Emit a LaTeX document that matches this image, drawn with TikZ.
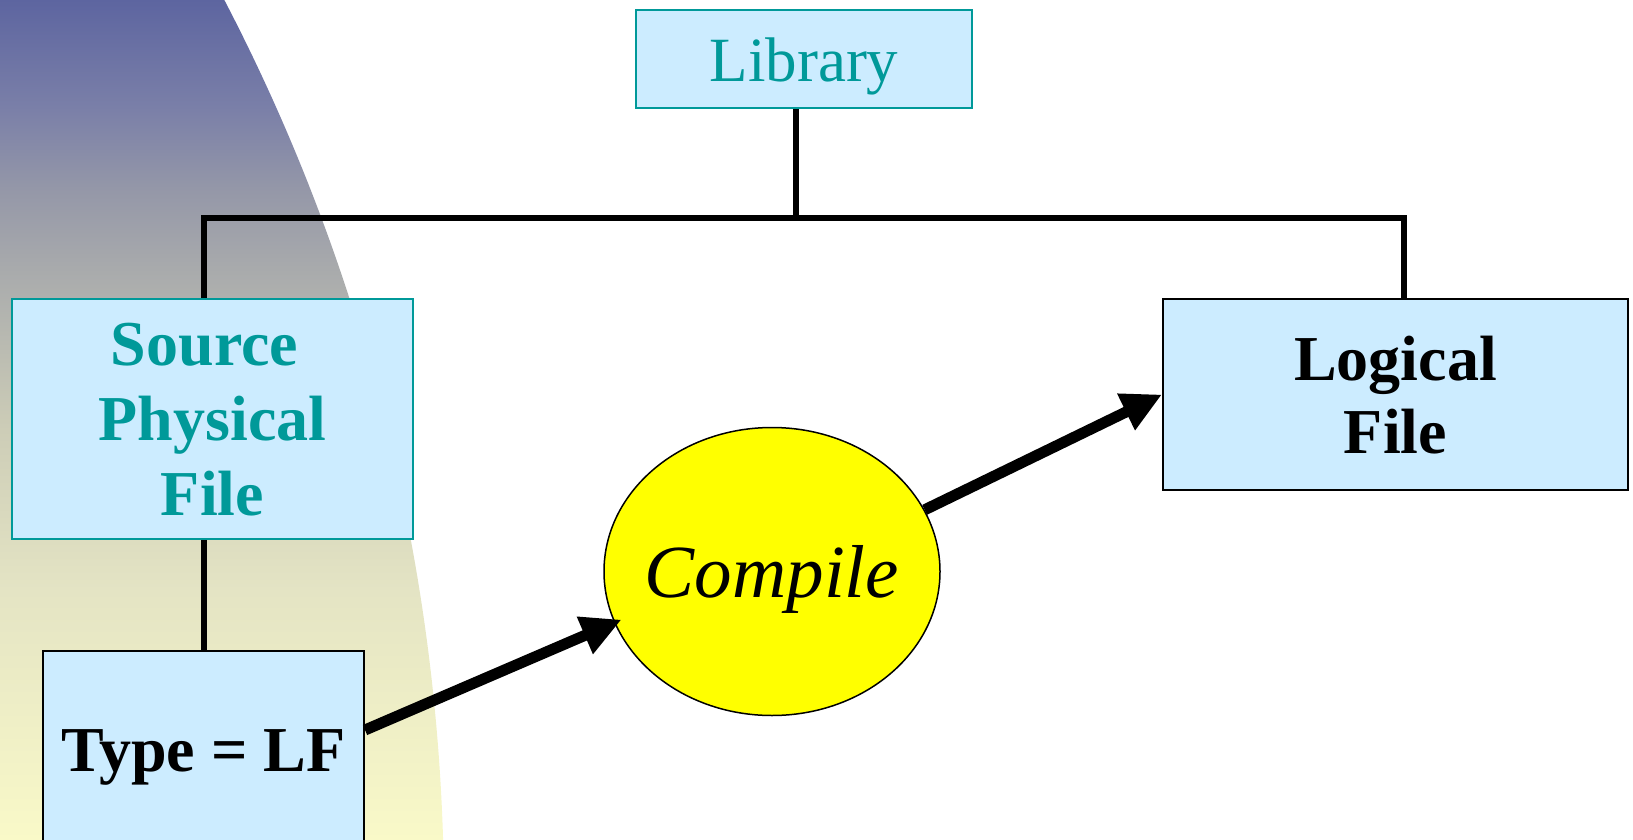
\documentclass[tikz,border=0pt]{standalone}
\usepackage{fontspec}
\setmainfont{Liberation Serif}
\usetikzlibrary{arrows.meta,shapes.geometric,calc}

\definecolor{boxblue}{RGB}{204,236,255}
\definecolor{boxteal}{RGB}{0,153,153}
\definecolor{compileyellow}{RGB}{255,255,0}
\definecolor{fadeA}{RGB}{93,101,160}
\definecolor{fadeB}{RGB}{122,127,168}
\definecolor{fadeC}{RGB}{148,151,168}
\definecolor{fadeD}{RGB}{168,170,172}
\definecolor{fadeE}{RGB}{205,205,183}
\definecolor{fadeF}{RGB}{228,228,196}
\definecolor{fadeG}{RGB}{249,249,200}

% blue-to-cream backdrop, bottom (0bp) to top (100bp)
\pgfdeclareverticalshading{sidefade}{100bp}{%
  color(0bp)=(fadeG); color(25bp)=(fadeG); color(39.88bp)=(fadeF);
  color(49.4bp)=(fadeE); color(59.05bp)=(fadeD); color(63.81bp)=(fadeC);
  color(68.63bp)=(fadeB); color(75bp)=(fadeA); color(100bp)=(fadeA)}

\tikzset{
  boxbase/.style={rectangle, fill=boxblue, inner sep=0pt, text depth=0pt, align=center},
  tealbox/.style={boxbase, draw=boxteal, line width=1pt, text=boxteal},
  darkbox/.style={boxbase, draw=black, line width=1pt},
  conn/.style={line width=3pt, line join=miter},
  flow/.style={line width=5.5pt, -{Triangle[length=20pt,width=19pt]}},
  boldtext/.style={font=\fontsize{32}{37.5}\selectfont\bfseries},
}

\begin{document}
\begin{tikzpicture}[x=0.5pt, y=0.5pt]
\useasboundingbox (0,0) rectangle (1633,-840);
\clip (0,0) rectangle (1633,-840);

% curved backdrop on the left
\begin{scope}
  \clip (-1506,-900) circle (975pt);
  \shade[shading=sidefade] (0,0) rectangle (470,-840);
\end{scope}

% boxes
\node[tealbox, minimum width=168pt, minimum height=49pt,
      font=\fontsize{31.5}{36}\selectfont] (library) at (804,-59.5) {Library};
\node[tealbox, boldtext, minimum width=200.5pt, minimum height=120pt]
      (source) at (212.5,-419) {Source\hbox to 8pt{}\\Physical\\File};
\node[darkbox, minimum width=232.5pt, minimum height=95.5pt,
      font=\fontsize{32}{36.5}\selectfont\bfseries]
      (logical) at (1395.5,-394.5) {Logical\\File};
\node[darkbox, boldtext, minimum width=160.5pt, minimum height=100pt]
      (typebox) at (203.5,-751) {Type = LF};
\node[ellipse, draw=black, line width=0.75pt, fill=compileyellow, inner sep=0pt,
      minimum width=168pt, minimum height=144pt, text depth=0pt,
      font=\fontsize{37.5}{40}\selectfont\itshape]
      (compile) at (772,-571.5) {\makebox[0pt]{Compile}};

% tree connectors
\coordinate (busL) at (204,-218);
\coordinate (busR) at (1404,-218);
\draw[conn] ([xshift=-4pt]library.south) -- ([xshift=-4pt]library.south |- busL);
\draw[conn] (source.north -| busL) -- (busL) -- (busR) -- (busR |- logical.north);
\draw[conn] (source.south -| busL) -- (typebox.north -| busL);

% flow arrows
\coordinate (typeout) at ($(typebox.north east)+(0,-80)$);
\draw[flow, shorten >=-4pt] (typeout) -- (compile.198);
\draw[flow] (compile.22.5) -- (logical.west);
\end{tikzpicture}
\end{document}
